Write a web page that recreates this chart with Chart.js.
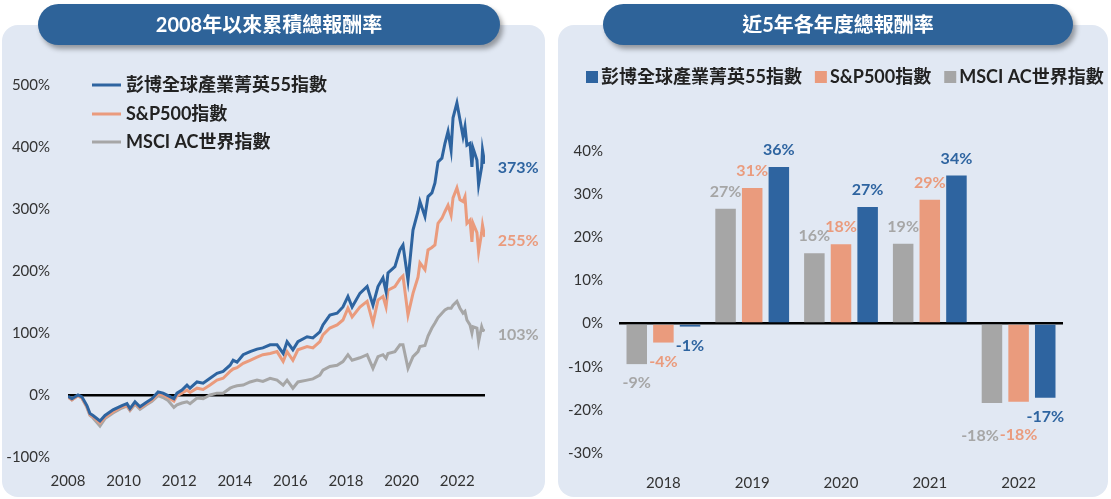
<html>
<head>
<meta charset="utf-8">
<script src="https://cdn.jsdelivr.net/npm/chart.js@4.4.0/dist/chart.umd.min.js"></script>
<style>
  body { margin: 0; background: #fff; width: 1111px; height: 499px; overflow: hidden; position: relative; }
  .panel { position: absolute; background: #E1E8F3; border-radius: 16px; }
  .pill { position: absolute; background: #2E6399; border-radius: 21px; color: #fff; text-align: center;
          font: bold 20px Lato, "Noto Sans CJK TC", sans-serif; line-height: 41px;
          box-shadow: 3px 4px 5px rgba(0,0,0,0.35); }
  canvas { position: absolute; }
</style>
</head>
<body>
<div class="panel" style="left:2px;top:25px;width:543px;height:472px"></div>
<div class="panel" style="left:558px;top:25px;width:550px;height:472px"></div>
<canvas id="lineChart" width="545" height="447" style="left:0;top:50px"></canvas>
<canvas id="barChart" width="550" height="447" style="left:558px;top:50px"></canvas>
<div class="pill" style="left:38px;top:4px;width:462px;height:41px">2008年以來累積總報酬率</div>
<div class="pill" style="left:603px;top:4px;width:470px;height:41px">近5年各年度總報酬率</div>

<script>
var FONT = 'Lato, "Noto Sans CJK TC", sans-serif';
var BLUE = '#2E64A0', ORANGE = '#EA9B7D', GRAY = '#A6A6A6';

var seriesNames = ['彭博全球產業菁英55指數', 'S&P500指數', 'MSCI AC世界指數'];
var yearTicks = [2008, 2010, 2012, 2014, 2016, 2018, 2020, 2022];

// cumulative return since 2008 (%)
var dates = [2008.00, 2008.14, 2008.36, 2008.50, 2008.68, 2008.79, 2008.90, 2009.15, 2009.33, 2009.62,
             2009.94, 2010.12, 2010.23, 2010.41, 2010.59, 2010.81, 2011.02, 2011.24, 2011.42, 2011.60,
             2011.81, 2011.92, 2012.10, 2012.28, 2012.39, 2012.64, 2012.86, 2013.11, 2013.36, 2013.58,
             2013.83, 2013.94, 2014.08, 2014.30, 2014.55, 2014.80, 2015.01, 2015.27, 2015.52, 2015.74,
             2015.88, 2016.09, 2016.27, 2016.60, 2016.81, 2017.06, 2017.17, 2017.42, 2017.68, 2017.89,
             2018.07, 2018.22, 2018.50, 2018.76, 2018.97, 2019.15, 2019.33, 2019.44, 2019.51, 2019.76,
             2019.94, 2020.05, 2020.23, 2020.41, 2020.59, 2020.66, 2020.84, 2020.95, 2021.09, 2021.20,
             2021.31, 2021.45, 2021.56, 2021.67, 2021.78, 2021.85, 2021.99, 2022.10, 2022.21, 2022.28,
             2022.35, 2022.46, 2022.53, 2022.57, 2022.71, 2022.77, 2022.88, 2022.91, 2022.99];
var bbg55 = [-2, -6, 0, -3, -17, -30, -33, -42, -33, -24,
             -17, -14, -22, -11, -19, -12, -6, 5, 3, -1,
             -6, 3, 8, 16, 11, 21, 19, 27, 35, 38,
             48, 56, 53, 65, 70, 74, 76, 81, 81, 67,
             86, 73, 86, 94, 92, 102, 113, 129, 132, 142,
             159, 142, 164, 175, 145, 175, 189, 167, 197, 207,
             234, 242, 185, 266, 296, 312, 288, 320, 326, 342,
             376, 382, 406, 425, 395, 447, 471, 444, 417, 433,
             403, 406, 368, 398, 379, 339, 368, 395, 373];
var sp500 = [-3, -8, -1, -5, -19, -32, -35, -45, -36, -27,
             -19, -17, -24, -13, -21, -14, -8, 2, 0, -4,
             -10, -1, 3, 8, 4, 11, 9, 16, 24, 27,
             38, 42, 44, 51, 56, 61, 65, 67, 70, 54,
             70, 56, 73, 78, 76, 86, 97, 108, 113, 121,
             140, 126, 142, 151, 116, 153, 159, 142, 169, 175,
             187, 192, 129, 164, 190, 213, 202, 234, 238, 242,
             277, 285, 296, 306, 290, 318, 334, 315, 312, 320,
             277, 282, 247, 277, 262, 231, 262, 274, 255];
var acwi  = [-3, -8, -1, -5, -20, -33, -37, -50, -38, -29,
             -21, -18, -25, -15, -23, -16, -10, -1, -4, -9,
             -20, -16, -13, -11, -14, -5, -6, 0, 3, 3,
             11, 13, 15, 16, 21, 24, 22, 27, 24, 16,
             24, 11, 21, 24, 26, 32, 40, 46, 48, 54,
             65, 56, 60, 65, 43, 62, 65, 59, 67, 70,
             81, 81, 43, 62, 70, 78, 80, 95, 108, 116,
             125, 132, 137, 140, 140, 145, 151, 140, 132, 135,
             121, 113, 100, 110, 108, 86, 110, 106, 103];

// yearly total return (%)
var years = ['2018', '2019', '2020', '2021', '2022'];
var bbg55Yearly = [-0.7, 36.3, 27.0, 34.3, -17.2];
var sp500Yearly = [-4.4, 31.4, 18.4, 28.7, -18.1];
var acwiYearly  = [-9.4, 26.6, 16.3, 18.5, -18.4];

function pts(vals) {
  return vals.map(function (v, i) { return { x: dates[i], y: v }; });
}
function zeroGrid(ctx) { return ctx.tick.value === 0 ? '#000' : 'rgba(0,0,0,0)'; }

var lineLegend = {
  id: 'lineLegend',
  afterDraw: function (chart) {
    var c = chart.ctx;
    var rows = [35, 64, 92];
    c.save();
    chart.data.datasets.forEach(function (ds, i) {
      c.strokeStyle = ds.borderColor;
      c.lineWidth = 3;
      c.beginPath();
      c.moveTo(92, rows[i]);
      c.lineTo(121, rows[i]);
      c.stroke();
      c.fillStyle = '#222';
      c.font = 'bold 18px ' + FONT;
      c.textBaseline = 'middle';
      c.fillText(ds.label, 126, rows[i]);
    });
    c.restore();
  }
};

var endLabels = {
  id: 'endLabels',
  afterDatasetsDraw: function (chart) {
    var c = chart.ctx;
    c.save();
    c.font = 'bold 16px ' + FONT;
    c.textBaseline = 'middle';
    chart.data.datasets.forEach(function (ds, i) {
      var pts = chart.getDatasetMeta(i).data;
      var last = pts[pts.length - 1];
      var v = ds.data[ds.data.length - 1].y;
      c.fillStyle = ds.borderColor;
      c.fillText(Math.round(v) + '%', last.x + 13, last.y + 4);
    });
    c.restore();
  }
};

new Chart(document.getElementById('lineChart'), {
  type: 'line',
  data: {
    datasets: [
      { label: seriesNames[0], data: pts(bbg55), borderColor: BLUE },
      { label: seriesNames[1], data: pts(sp500), borderColor: ORANGE },
      { label: seriesNames[2], data: pts(acwi), borderColor: GRAY }
    ].map(function (d) { d.borderWidth = 3; d.pointRadius = 0; d.tension = 0; d.fill = false; return d; })
  },
  options: {
    responsive: false,
    animation: false,
    layout: { padding: { top: 35, right: 60, left: 0, bottom: 0 } },
    plugins: { legend: { display: false }, tooltip: { enabled: false } },
    scales: {
      x: {
        type: 'linear', min: 2008, max: 2023,
        grid: { display: false }, border: { display: false },
        afterBuildTicks: function (s) { s.ticks = yearTicks.map(function (v) { return { value: v }; }); },
        ticks: {
          autoSkip: false, maxRotation: 0, padding: 7,
          color: '#333', font: { family: FONT, size: 15 },
          callback: function (v) { return String(v); }
        },
        afterFit: function (s) { s.height = 40; }
      },
      y: {
        min: -100, max: 500,
        grid: { color: zeroGrid, lineWidth: 2.5, drawTicks: false }, border: { display: false },
        ticks: {
          stepSize: 100, padding: 18, color: '#333', font: { family: FONT, size: 15 },
          callback: function (v) { return v + '%'; }
        },
        afterFit: function (s) { s.width = 68; }
      }
    }
  },
  plugins: [lineLegend, endLabels]
});

// value labels outside the bar ends; a label that clearly collides with
// its right-hand neighbour is pushed down, then left
var barLabels = {
  id: 'barLabels',
  afterDatasetsDraw: function (chart) {
    var c = chart.ctx;
    var n = chart.data.labels.length;
    c.save();
    c.font = 'bold 16px ' + FONT;
    c.textAlign = 'center';
    c.textBaseline = 'middle';
    function hit(a, b) {
      return a.l < b.r && b.l < a.r && a.t < b.b && b.t < a.b;
    }
    for (var j = 0; j < n; j++) {
      var placed = [];
      for (var i = chart.data.datasets.length - 1; i >= 0; i--) {
        var ds = chart.data.datasets[i];
        var bar = chart.getDatasetMeta(i).data[j];
        var v = ds.data[j];
        var txt = Math.round(v) + '%';
        var w = c.measureText(txt).width - 6;
        var x = bar.x, y = v >= 0 ? bar.y - 17 : bar.y + 19;
        var box = function () { return { l: x - w / 2, r: x + w / 2, t: y - 7, b: y + 7 }; };
        var clash = placed.filter(function (p) { return hit(box(), p); });
        if (clash.length) {
          y += v >= 0 ? -14 : 14;
          clash = placed.filter(function (p) { return hit(box(), p); });
          if (clash.length) {
            var minL = Math.min.apply(null, clash.map(function (p) { return p.l; }));
            x = minL - 7 - w / 2;
          }
        }
        placed.push(box());
        c.fillStyle = ds.backgroundColor;
        c.fillText(txt, x, y);
      }
    }
    c.restore();
  }
};

// one-row legend: blue, orange, gray (datasets drawn in reverse order)
var barLegend = {
  id: 'barLegend',
  afterDraw: function (chart) {
    var c = chart.ctx;
    var x = 28, y = 27;
    c.save();
    c.font = 'bold 18px ' + FONT;
    c.textBaseline = 'middle';
    chart.data.datasets.slice().reverse().forEach(function (ds) {
      c.fillStyle = ds.backgroundColor;
      c.fillRect(x, y - 6, 12, 12);
      c.fillStyle = '#222';
      c.fillText(ds.label, x + 15, y);
      x += 15 + c.measureText(ds.label).width + 13;
    });
    c.restore();
  }
};

new Chart(document.getElementById('barChart'), {
  type: 'bar',
  data: {
    labels: years,
    datasets: [
      { label: seriesNames[2], data: acwiYearly, backgroundColor: GRAY },
      { label: seriesNames[1], data: sp500Yearly, backgroundColor: ORANGE },
      { label: seriesNames[0], data: bbg55Yearly, backgroundColor: BLUE }
    ].map(function (d) { d.categoryPercentage = 0.9; d.barPercentage = 0.77; return d; })
  },
  options: {
    responsive: false,
    animation: false,
    layout: { padding: { top: 101, right: 45, left: 0, bottom: 0 } },
    plugins: { tooltip: { enabled: false }, legend: { display: false } },
    scales: {
      x: {
        grid: { display: false }, border: { display: false },
        ticks: { padding: 13, color: '#333', font: { family: FONT, size: 15 } },
        afterFit: function (s) { s.height = 44; }
      },
      y: {
        min: -30, max: 40,
        grid: { color: zeroGrid, lineWidth: 2.5, drawTicks: false }, border: { display: false },
        ticks: {
          stepSize: 10, padding: 16, color: '#333', font: { family: FONT, size: 15 },
          callback: function (v) { return v + '%'; }
        },
        afterFit: function (s) { s.width = 61; }
      }
    }
  },
  plugins: [barLabels, barLegend]
});
</script>
</body>
</html>
